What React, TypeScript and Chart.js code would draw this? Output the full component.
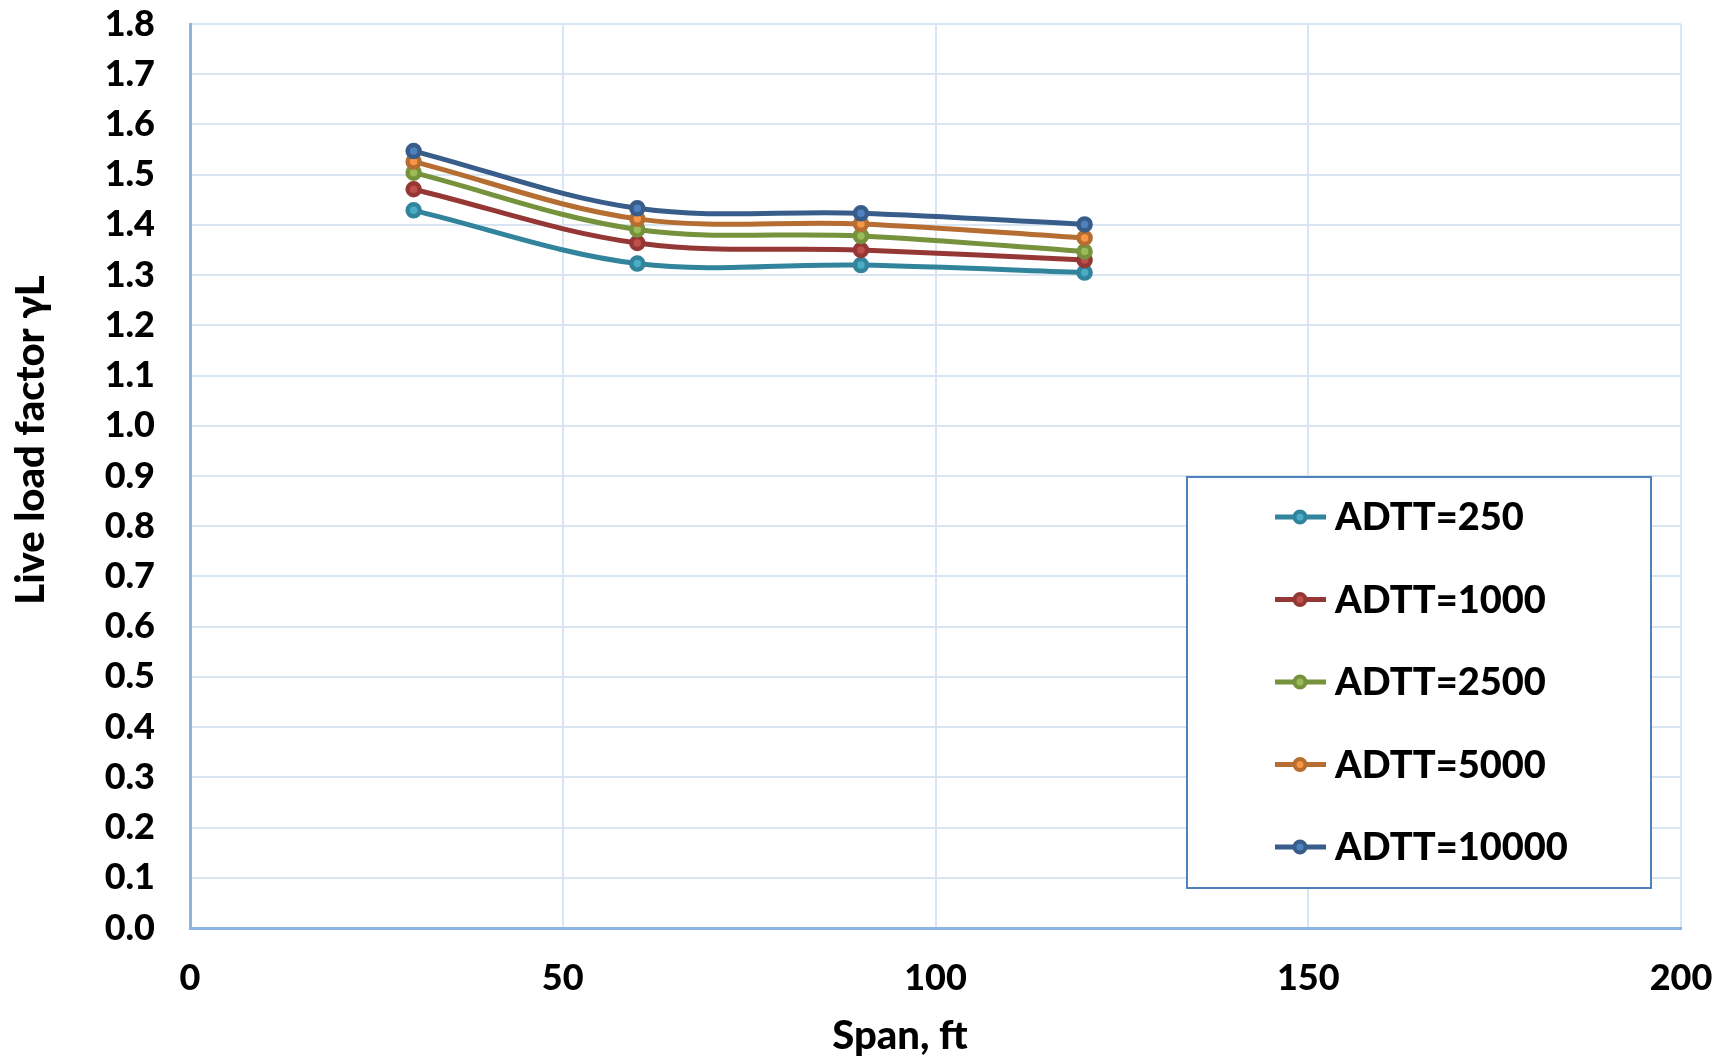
import { useEffect, useRef } from "react";
import { Chart, registerables } from "chart.js";

Chart.register(...registerables);

// ---- data ----
const spans = [30, 60, 90, 120];
const seriesNames = ["ADTT=250", "ADTT=1000", "ADTT=2500", "ADTT=5000", "ADTT=10000"];
const adtt250 = [1.429, 1.323, 1.32, 1.305];
const adtt1000 = [1.471, 1.364, 1.35, 1.33];
const adtt2500 = [1.504, 1.391, 1.378, 1.347];
const adtt5000 = [1.526, 1.412, 1.402, 1.374];
const adtt10000 = [1.547, 1.433, 1.423, 1.401];
const seriesValues = [adtt250, adtt1000, adtt2500, adtt5000, adtt10000];
const lineColors = ["#31849B", "#953735", "#76923C", "#B66D31", "#385D8A"];
const markerFills = ["#4BACC6", "#C0504D", "#9BBB59", "#F79646", "#4F81BD"];
const xMin = 0;
const xMax = 200;
const xStep = 50;
const yMin = 0;
const yMax = 1.8;
const yStep = 0.1;
const xTitle = "Span, ft";
const yTitle = "Live load factor γL";

const FONT = "Lato, 'DejaVu Sans', sans-serif";
const gridColor = "#DAE5F2";
const axisColor = "#8EB4E3";

const overlayPlugin = {
  id: "overlay",
  afterDraw(chart: any) {
    const ctx = chart.ctx as CanvasRenderingContext2D;
    // legend box
    const bx = 1187, by = 477, bw = 464, bh = 411;
    ctx.save();
    ctx.fillStyle = "#FFFFFF";
    ctx.fillRect(bx, by, bw, bh);
    ctx.strokeStyle = "#4F81BD";
    ctx.lineWidth = 2;
    ctx.strokeRect(bx, by, bw, bh);
    seriesNames.forEach((name, i) => {
      const cy = 517 + i * 82.5;
      ctx.strokeStyle = lineColors[i];
      ctx.lineWidth = 5;
      ctx.beginPath();
      ctx.moveTo(1275, cy);
      ctx.lineTo(1326, cy);
      ctx.stroke();
      ctx.beginPath();
      ctx.arc(1300, cy, 5.5, 0, Math.PI * 2);
      ctx.fillStyle = markerFills[i];
      ctx.fill();
      ctx.lineWidth = 4;
      ctx.stroke();
      ctx.fillStyle = "#000000";
      ctx.font = `900 38px ${FONT}`;
      ctx.textAlign = "left";
      ctx.textBaseline = "middle";
      ctx.fillText(name, 1335, cy + 1);
    });
    // axis titles
    ctx.fillStyle = "#000000";
    ctx.font = `900 40px ${FONT}`;
    ctx.textAlign = "center";
    ctx.textBaseline = "middle";
    ctx.fillText(xTitle, 900, 1036);
    ctx.translate(31, 440);
    ctx.rotate(-Math.PI / 2);
    ctx.fillText(yTitle, 0, 0);
    ctx.restore();
  },
};

export default function App() {
  const ref = useRef<HTMLCanvasElement | null>(null);
  useEffect(() => {
    if (!ref.current) return;
    const chart = new Chart(ref.current, {
      type: "line",
      data: {
        datasets: seriesNames.map((name, i) => ({
          label: name,
          data: spans.map((x, j) => ({ x, y: seriesValues[i][j] })),
          borderColor: lineColors[i],
          backgroundColor: markerFills[i],
          pointBackgroundColor: markerFills[i],
          pointBorderColor: lineColors[i],
          pointRadius: 6,
          pointBorderWidth: 4.5,
          borderWidth: 5,
          tension: 0.35,
          fill: false,
          order: seriesNames.length - i,
        })),
      },
      plugins: [overlayPlugin],
      options: {
        responsive: false,
        animation: false,
        layout: { padding: { left: 0, right: 50, top: 24, bottom: 0 } },
        plugins: {
          legend: { display: false },
          tooltip: { enabled: false },
          title: { display: false },
        },
        scales: {
          x: {
            type: "linear",
            min: xMin,
            max: xMax,
            ticks: {
              stepSize: xStep,
              color: "#000000",
              font: { family: FONT, size: 36, weight: "900" },
              padding: 0,
              maxRotation: 0,
            },
            grid: {
              color: gridColor,
              lineWidth: 2,
              drawTicks: true,
              tickLength: 29,
              tickColor: "rgba(0,0,0,0)",
            },
            border: { color: axisColor, width: 3 },
            afterFit: (s: any) => {
              s.height = 130;
            },
          },
          y: {
            type: "linear",
            min: yMin,
            max: yMax,
            ticks: {
              stepSize: yStep,
              color: "#000000",
              font: { family: FONT, size: 36, weight: "900" },
              padding: 0,
              callback: (v: any) => Number(v).toFixed(1),
            },
            grid: {
              color: gridColor,
              lineWidth: 2,
              drawTicks: true,
              tickLength: 35,
              tickColor: "rgba(0,0,0,0)",
            },
            border: { color: axisColor, width: 3 },
            afterFit: (s: any) => {
              s.width = 190;
            },
          },
        },
      },
    } as any);
    return () => chart.destroy();
  }, []);
  return (
    <div style={{ position: "fixed", left: 0, top: 0, width: 1731, height: 1058, background: "#fff" }}>
      <canvas ref={ref} width={1731} height={1058} style={{ width: 1731, height: 1058 }} />
    </div>
  );
}
